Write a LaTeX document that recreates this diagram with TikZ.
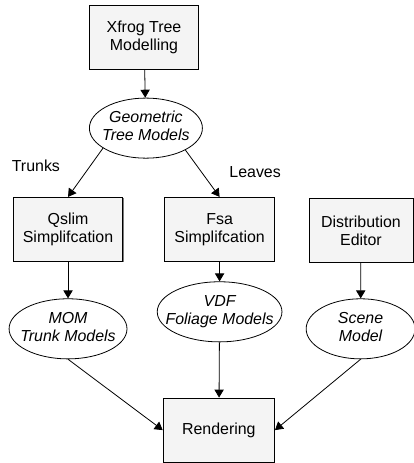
\documentclass[tikz,border=0pt]{standalone}
\usepackage{fontspec}
\setmainfont{Liberation Sans}
\usetikzlibrary{arrows.meta, shapes.geometric, shadows}
\definecolor{boxfill}{HTML}{F4F4F4}
\definecolor{shade}  {HTML}{7A7A7A}
\newcommand{\diagfont}{\fontsize{12}{13.5}\selectfont}
\newcommand{\ovaltext}[2]{\makebox[0pt]{\begin{tabular}{@{}c@{}}#1\\#2\end{tabular}}}

\begin{document}
\begin{tikzpicture}[font=\diagfont, line width=0.6pt,
    box/.style={draw, fill=boxfill, align=center, minimum width=2.9cm, minimum height=1.7cm,
      drop shadow={shadow xshift=0.5pt, shadow yshift=-0.5pt, fill=shade, opacity=1}},
    oval/.style={draw, fill=white, ellipse, inner sep=0pt, minimum height=1.59cm, font=\diagfont\itshape},
    flow/.style={-{Triangle[length=6pt, width=7pt]}}]
  \useasboundingbox (0,0) rectangle (10.95,-12.25);
  % top of the chain
  \node[box] (xfrog) at (3.81,-0.99) {Xfrog Tree\\Modelling};
  \node[oval, minimum width=2.99cm] (geo) at (3.86,-3.39) {\ovaltext{Geometric}{Tree Models}};
  % simplification and editing
  \node[box] (qslim) at (1.80,-6.07) {Qslim\\Simplifcation};
  \node[box] (fsa) at (5.81,-6.07) {Fsa\\Simplifcation};
  \node[box, minimum width=2.75cm] (dist) at (9.55,-6.10) {Distribution\\Editor};
  \node[oval, minimum width=3.12cm] (mom) at (1.80,-8.70) {\ovaltext{MOM}{Trunk Models}};
  \node[oval, minimum width=3.3cm] (vdf) at (5.81,-8.25) {\ovaltext{VDF}{Foliage Models}};
  \node[oval, minimum width=2.88cm] (scene) at (9.54,-8.70) {\ovaltext{Scene}{Model}};
  \node[box, minimum width=2.95cm] (render) at (5.79,-11.38) {Rendering};
  \node (trunks) at (0.95,-4.39) {Trunks};
  \node (leaves) at (6.75,-4.55) {Leaves};
  % connectors
  \draw[flow] (xfrog) -- (geo);
  \draw[flow] (geo.205) -- (qslim.north);
  \draw[flow] (geo.-29) -- (fsa.north);
  \draw[flow] (qslim) -- (mom);
  \draw[flow] (fsa) -- (vdf);
  \draw[flow] (dist) -- (scene);
  \draw[flow] (mom.south) -- (render.west);
  \draw[flow] (vdf) -- (render);
  \draw[flow] (scene.south) -- (render.east);
\end{tikzpicture}
\end{document}
